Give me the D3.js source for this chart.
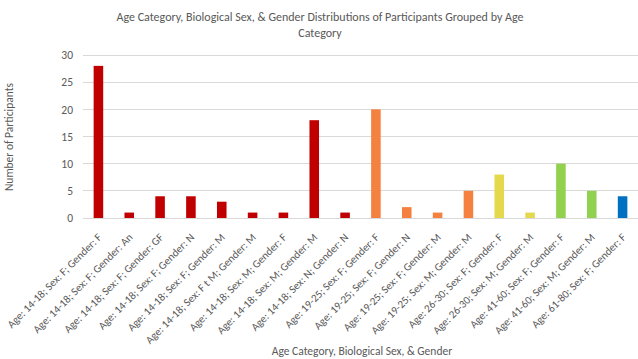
<!DOCTYPE html>
<html><head><meta charset="utf-8">
<script src="https://cdn.jsdelivr.net/npm/d3@7"></script>
<style>body{margin:0;background:#fff;} text{font-family:Carlito,Lato,"Open Sans",sans-serif;}</style>
</head><body><svg id="c" width="638" height="359"></svg>
<script>
const categories = [
"Age: 14-18; Sex: F; Gender: F","Age: 14-18; Sex: F; Gender: An","Age: 14-18; Sex: F; Gender: GF",
"Age: 14-18; Sex: F; Gender: N","Age: 14-18; Sex: F; Gender: M","Age: 14-18; Sex: F t M; Gender: M",
"Age: 14-18; Sex: M; Gender: F","Age: 14-18; Sex: M; Gender: M","Age: 14-18; Sex: N; Gender: N",
"Age: 19-25; Sex: F; Gender: F","Age: 19-25; Sex: F; Gender: N","Age: 19-25; Sex: F; Gender: M",
"Age: 19-25; Sex: M; Gender: M","Age: 26-30; Sex: F; Gender: F","Age: 26-30; Sex: M; Gender: M",
"Age: 41-60; Sex: F; Gender: F","Age: 41-60; Sex: M; Gender: M","Age: 61-80; Sex: F; Gender: F"];
const values = [28,1,4,4,3,1,1,18,1,20,2,1,5,8,1,10,5,4];
const ageGroups = ["14-18","14-18","14-18","14-18","14-18","14-18","14-18","14-18","14-18",
"19-25","19-25","19-25","19-25","26-30","26-30","41-60","41-60","61-80"];
const groupNames = ["14-18","19-25","26-30","41-60","61-80"];
const groupColors = ["#C00000","#F4813F","#E4D84C","#92D050","#0070C0"];
const yTicks = [0,5,10,15,20,25,30];

const svg = d3.select("#c");
const m = {l:83, r:0, t:55, b:141};
const W = 638, H = 359;
const x = d3.scaleBand().domain(categories).range([m.l, W-m.r]).paddingInner(0.69).paddingOuter(0.345);
const y = d3.scaleLinear().domain([0,30]).range([H-m.b, m.t]);
const color = d3.scaleOrdinal().domain(groupNames).range(groupColors);

// grid
svg.append("g").selectAll("line").data(yTicks).join("line")
  .attr("x1", m.l).attr("x2", W-m.r).attr("y1", d=>y(d)).attr("y2", d=>y(d))
  .attr("stroke", "#D9D9D9").attr("stroke-width",1).attr("shape-rendering","crispEdges");

// y axis labels
const ya = svg.append("g").attr("transform",`translate(${m.l},0)`)
  .call(d3.axisLeft(y).tickValues(yTicks).tickSize(0).tickPadding(10));
ya.select(".domain").remove();
ya.selectAll("text").attr("fill","#595959").style("font-size","11.5px");

// bars
svg.append("g").selectAll("rect").data(categories).join("rect")
  .attr("x", d=>x(d)).attr("width", x.bandwidth())
  .attr("y", (d,i)=>y(values[i])).attr("height",(d,i)=>y(0)-y(values[i]))
  .attr("fill",(d,i)=>color(ageGroups[i]));

// x axis
const xa = svg.append("g").attr("transform",`translate(0,${y(0)})`)
  .call(d3.axisBottom(x).tickSize(0).tickPadding(0));
xa.select(".domain").remove();
xa.selectAll("text").attr("fill","#595959").style("font-size","11px")
  .attr("text-anchor","end").attr("x",0).attr("y",0).attr("dy",0)
  .attr("transform","translate(4,20) rotate(-45)");

// titles
const title = svg.append("text").attr("x",320).attr("y",21).attr("text-anchor","middle")
  .attr("fill","#595959").style("font-size","12px");
title.append("tspan").attr("x",320).text("Age Category, Biological Sex, & Gender Distributions of Participants Grouped by Age");
title.append("tspan").attr("x",320).attr("dy",16).text("Category");

svg.append("text").attr("x",362).attr("y",355).attr("text-anchor","middle")
  .attr("fill","#595959").style("font-size","11.5px").text("Age Category, Biological Sex, & Gender");
svg.append("text").attr("transform","translate(13,137) rotate(-90)").attr("text-anchor","middle")
  .attr("fill","#595959").style("font-size","11.5px").text("Number of Participants");
</script></body></html>
